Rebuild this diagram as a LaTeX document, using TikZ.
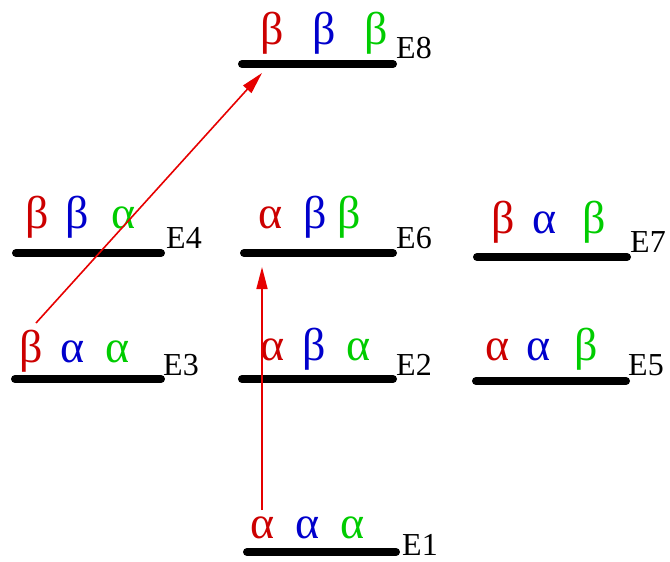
\documentclass[tikz,border=0pt]{standalone}
\usepackage{fontspec}
\setmainfont{Liberation Serif}
\usetikzlibrary{arrows.meta}
\definecolor{cr}{RGB}{204,0,0}
\definecolor{cb}{RGB}{0,0,204}
\definecolor{cg}{RGB}{0,204,0}
\definecolor{ca}{RGB}{230,0,0}
\tikzset{
  level/.style={line width=8pt, line cap=round, black},
  lab/.style={anchor=base west, inner sep=0pt, font=\fontsize{32}{32}\selectfont},
  gk/.style={anchor=base, inner sep=0pt, font=\fontsize{46}{46}\selectfont},
  trans/.style={draw=ca, line width=1.6pt, -{Triangle[length=22pt,width=11pt]}, shorten >=0pt}
}
\begin{document}
\begin{tikzpicture}[x=1pt,y=-1pt]
\useasboundingbox (0,0) rectangle (670,562);
% levels
\coordinate (e8a) at (242,64);  \coordinate (e8b) at (393,64);
\coordinate (e4a) at (16,253);  \coordinate (e4b) at (161,253);
\coordinate (e6a) at (244,253); \coordinate (e6b) at (393,253);
\coordinate (e7a) at (477,257); \coordinate (e7b) at (627,257);
\coordinate (e3a) at (15,379);  \coordinate (e3b) at (161,379);
\coordinate (e2a) at (242,379); \coordinate (e2b) at (393,379);
\coordinate (e5a) at (476,381); \coordinate (e5b) at (626,381);
\coordinate (e1a) at (247,552); \coordinate (e1b) at (396,552);
\draw[level] (e8a) -- (e8b);
\draw[level] (e4a) -- (e4b);
\draw[level] (e6a) -- (e6b);
\draw[level] (e7a) -- (e7b);
\draw[level] (e3a) -- (e3b);
\draw[level] (e2a) -- (e2b);
\draw[level] (e5a) -- (e5b);
\draw[level] (e1a) -- (e1b);
% labels
\node[lab] (l8) at (396,58) {E8};
\node[lab] (l4) at (166,248) {E4};
\node[lab] (l6) at (396,248) {E6};
\node[lab] (l7) at (630,252) {E7};
\node[lab] (l3) at (163,375) {E3};
\node[lab] (l2) at (396,375) {E2};
\node[lab] (l5) at (628,375) {E5};
\node[lab] (l1) at (402,555) {E1};
% spin states
\node[gk,cr] (s8a) at (272,45) {β};
\node[gk,cb] (s8b) at (324,45) {β};
\node[gk,cg] (s8c) at (376,45) {β};
\node[gk,cr] (s4a) at (37,228) {β};
\node[gk,cb] (s4b) at (77,228) {β};
\node[gk,cg] (s4c) at (124,228) {α};
\node[gk,cr] (s6a) at (271,228) {α};
\node[gk,cb] (s6b) at (315,228) {β};
\node[gk,cg] (s6c) at (349,228) {β};
\node[gk,cr] (s7a) at (503,233) {β};
\node[gk,cb] (s7b) at (545,233) {α};
\node[gk,cg] (s7c) at (594,233) {β};
\node[gk,cr] (s3a) at (31,362) {β};
\node[gk,cb] (s3b) at (73,362) {α};
\node[gk,cg] (s3c) at (118,362) {α};
\node[gk,cr] (s2a) at (273,360) {α};
\node[gk,cb] (s2b) at (314,360) {β};
\node[gk,cg] (s2c) at (359,360) {α};
\node[gk,cr] (s5a) at (498,360) {α};
\node[gk,cb] (s5b) at (539,360) {α};
\node[gk,cg] (s5c) at (586,360) {β};
\node[gk,cr] (s1a) at (263,538) {α};
\node[gk,cb] (s1b) at (308,538) {α};
\node[gk,cg] (s1c) at (353,538) {α};
% transitions
\coordinate (t1s) at (262,510);
\coordinate (t1e) at (262,267);
\coordinate (t2s) at (36,323);
\coordinate (t2e) at (262,73);
\draw[trans] (t1s) -- (t1e);
\draw[trans] (t2s) -- (t2e);
\end{tikzpicture}
\end{document}
